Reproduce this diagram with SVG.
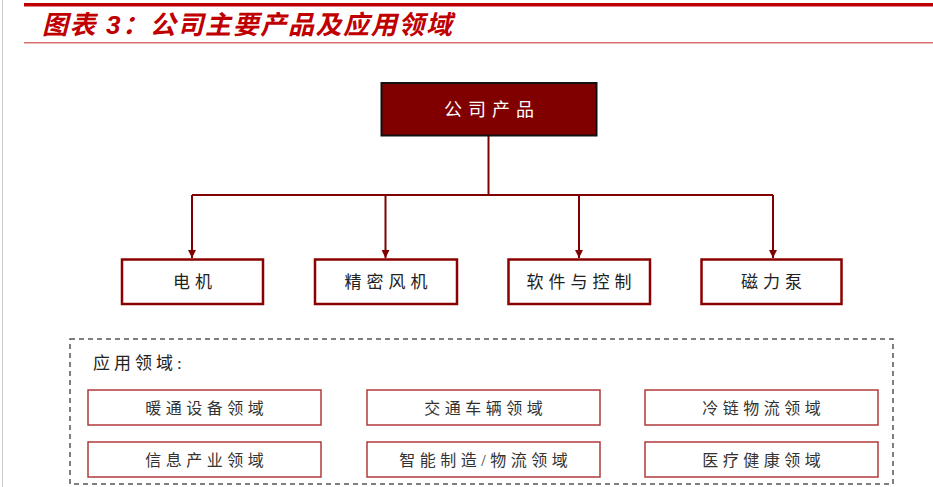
<svg xmlns="http://www.w3.org/2000/svg" width="933" height="487" viewBox="0 0 933 487">
<defs>
<style>
.cjk{font-family:"Liberation Serif","Noto Sans CJK SC",serif;}
.title{font-family:"Liberation Sans","Noto Sans CJK SC",sans-serif;font-size:26px;font-weight:bold;font-style:italic;fill:#c00000;}
.main{fill:#800000;stroke:#111;stroke-width:2;}
.mainT{font-size:18px;fill:#fff;letter-spacing:6px;}
.prod{fill:#fff;stroke:#8b0000;stroke-width:2.5;}
.prodT{font-size:17px;fill:#222;letter-spacing:5px;}
.app{fill:#fff;stroke:#b03a3a;stroke-width:1.5;}
.appT{font-size:16px;fill:#333;letter-spacing:4.5px;}
.conn{fill:none;stroke:#7f0000;stroke-width:2;}
</style>
<marker id="arr" viewBox="0 0 10 10" refX="10" refY="5" markerWidth="4" markerHeight="4" orient="auto" markerUnits="strokeWidth">
<path d="M0,0 L10,5 L0,10 Z" fill="#7f0000"/>
</marker>
</defs>
<rect width="933" height="487" fill="#fff"/>
<line x1="2.5" y1="0" x2="2.5" y2="487" stroke="#cccccc" stroke-width="1"/>
<rect x="24" y="3" width="909" height="3.5" fill="#c00000"/>
<rect x="24" y="42" width="909" height="1.5" fill="#d87070"/>
<text class="title" x="42" y="34" textLength="410" lengthAdjust="spacing">图表 3：公司主要产品及应用领域</text>

<g id="connectors">
<path class="conn" d="M488.5,136 V195"/>
<path class="conn" d="M192,195 H773"/>
<path class="conn" d="M192,195 V258" marker-end="url(#arr)"/>
<path class="conn" d="M385.5,195 V258" marker-end="url(#arr)"/>
<path class="conn" d="M579,195 V258" marker-end="url(#arr)"/>
<path class="conn" d="M773,195 V258" marker-end="url(#arr)"/>
</g>

<g id="node-products">
<rect class="main" x="381.5" y="83" width="215" height="52.5"/>
<text class="cjk mainT" x="492" y="115.5" text-anchor="middle">公司产品</text>
</g>
<g id="node-motor">
<rect class="prod" x="122" y="259.5" width="141" height="44.5"/>
<text class="cjk prodT" x="195" y="288" text-anchor="middle">电机</text>
</g>
<g id="node-fan">
<rect class="prod" x="315" y="259.5" width="142" height="44.5"/>
<text class="cjk prodT" x="388.5" y="288" text-anchor="middle">精密风机</text>
</g>
<g id="node-software">
<rect class="prod" x="508.5" y="259.5" width="141.5" height="44.5"/>
<text class="cjk prodT" x="581.5" y="288" text-anchor="middle">软件与控制</text>
</g>
<g id="node-pump">
<rect class="prod" x="701.5" y="259.5" width="140" height="44.5"/>
<text class="cjk prodT" x="774" y="288" text-anchor="middle">磁力泵</text>
</g>

<g id="applications">
<rect x="70" y="339" width="823" height="145" fill="none" stroke="#555" stroke-width="1.5" stroke-dasharray="5,4"/>
<text class="cjk" x="93" y="369" font-size="17" fill="#222" letter-spacing="4">应用领域:</text>
</g>
<g id="app-hvac">
<rect class="app" x="88" y="390" width="233" height="35"/>
<text class="cjk appT" x="206.8" y="413.5" text-anchor="middle">暖通设备领域</text>
</g>
<g id="app-vehicle">
<rect class="app" x="367" y="390" width="233" height="35"/>
<text class="cjk appT" x="485.8" y="413.5" text-anchor="middle">交通车辆领域</text>
</g>
<g id="app-coldchain">
<rect class="app" x="645" y="390" width="233" height="35"/>
<text class="cjk appT" x="763.8" y="413.5" text-anchor="middle">冷链物流领域</text>
</g>
<g id="app-info">
<rect class="app" x="88" y="442" width="233" height="35"/>
<text class="cjk appT" x="206.8" y="465.5" text-anchor="middle">信息产业领域</text>
</g>
<g id="app-manufacturing">
<rect class="app" x="367" y="442" width="233" height="35"/>
<text class="cjk appT" x="485.8" y="465.5" text-anchor="middle">智能制造/物流领域</text>
</g>
<g id="app-medical">
<rect class="app" x="645" y="442" width="233" height="35"/>
<text class="cjk appT" x="763.8" y="465.5" text-anchor="middle">医疗健康领域</text>
</g>
</svg>
